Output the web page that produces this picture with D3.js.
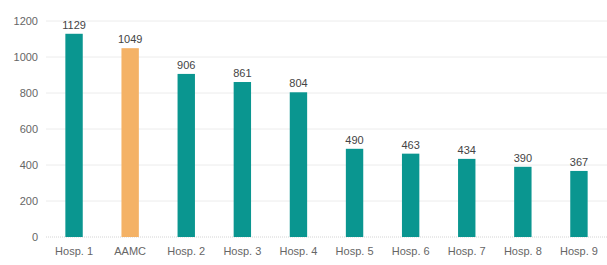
<!DOCTYPE html>
<html>
<head>
<meta charset="utf-8">
<script src="https://cdn.jsdelivr.net/npm/d3@7"></script>
<style>
  body { margin: 0; background: #fff; }
  text { font-family: "Liberation Sans", Arial, sans-serif; }
</style>
</head>
<body>
<div id="chart"></div>
<script>
  // data
  var categories = ['Hosp. 1', 'AAMC', 'Hosp. 2', 'Hosp. 3', 'Hosp. 4', 'Hosp. 5', 'Hosp. 6', 'Hosp. 7', 'Hosp. 8', 'Hosp. 9']
  var values = [1129, 1049, 906, 861, 804, 490, 463, 434, 390, 367]
  var yTicks = [0, 200, 400, 600, 800, 1000, 1200]
  var highlight = 'AAMC'

  var W = 607, H = 265
  var margin = { top: 21, right: 0, bottom: 28, left: 46 }
  var width = W - margin.left - margin.right
  var height = H - margin.top - margin.bottom

  var svg = d3.select('#chart').append('svg')
    .attr('width', W)
    .attr('height', H)
    .append('g')
    .attr('transform', 'translate(' + margin.left + ',' + margin.top + ')')

  var x = d3.scaleBand().domain(categories).range([0, width]).paddingInner(0.69).paddingOuter(0.345)
  var y = d3.scaleLinear().domain([0, 1200]).range([height, 0])

  // gridlines
  svg.append('g').selectAll('line')
    .data(yTicks.filter(d => d > 0))
    .enter().append('line')
    .attr('x1', 0).attr('x2', width)
    .attr('y1', d => y(d)).attr('y2', d => y(d))
    .attr('stroke', '#ececec')
    .attr('stroke-width', 1)

  // baseline
  svg.append('line')
    .attr('x1', 0).attr('x2', width)
    .attr('y1', y(0)).attr('y2', y(0))
    .attr('stroke', '#d4d4d4')
    .attr('stroke-dasharray', '1,1')

  var yAxis = svg.append('g').call(d3.axisLeft(y).tickValues(yTicks).tickFormat(d3.format('d')).tickSize(0).tickPadding(8))
  yAxis.select('.domain').remove()
  yAxis.selectAll('text').attr('font-size', 11).attr('fill', '#666')
    .style('font-family', '"Liberation Sans", Arial, sans-serif')

  var xAxis = svg.append('g').attr('transform', 'translate(0,' + height + ')')
    .call(d3.axisBottom(x).tickSize(0).tickPadding(10))
  xAxis.select('.domain').remove()
  xAxis.selectAll('text').attr('font-size', 11).attr('fill', '#666')
    .style('font-family', '"Liberation Sans", Arial, sans-serif')

  svg.selectAll('rect.bar').data(values).enter().append('rect')
    .attr('class', 'bar')
    .attr('x', (d, i) => x(categories[i]))
    .attr('y', d => y(d))
    .attr('width', x.bandwidth())
    .attr('height', d => height - y(d))
    .attr('fill', (d, i) => categories[i] == highlight ? '#f4b266' : '#0a9690')

  svg.selectAll('text.val').data(values).enter().append('text')
    .attr('class', 'val')
    .attr('x', (d, i) => x(categories[i]) + x.bandwidth() / 2)
    .attr('y', d => y(d) - 5)
    .attr('text-anchor', 'middle')
    .attr('font-size', 11)
    .attr('fill', '#444')
    .text(d => d)
</script>
</body>
</html>
